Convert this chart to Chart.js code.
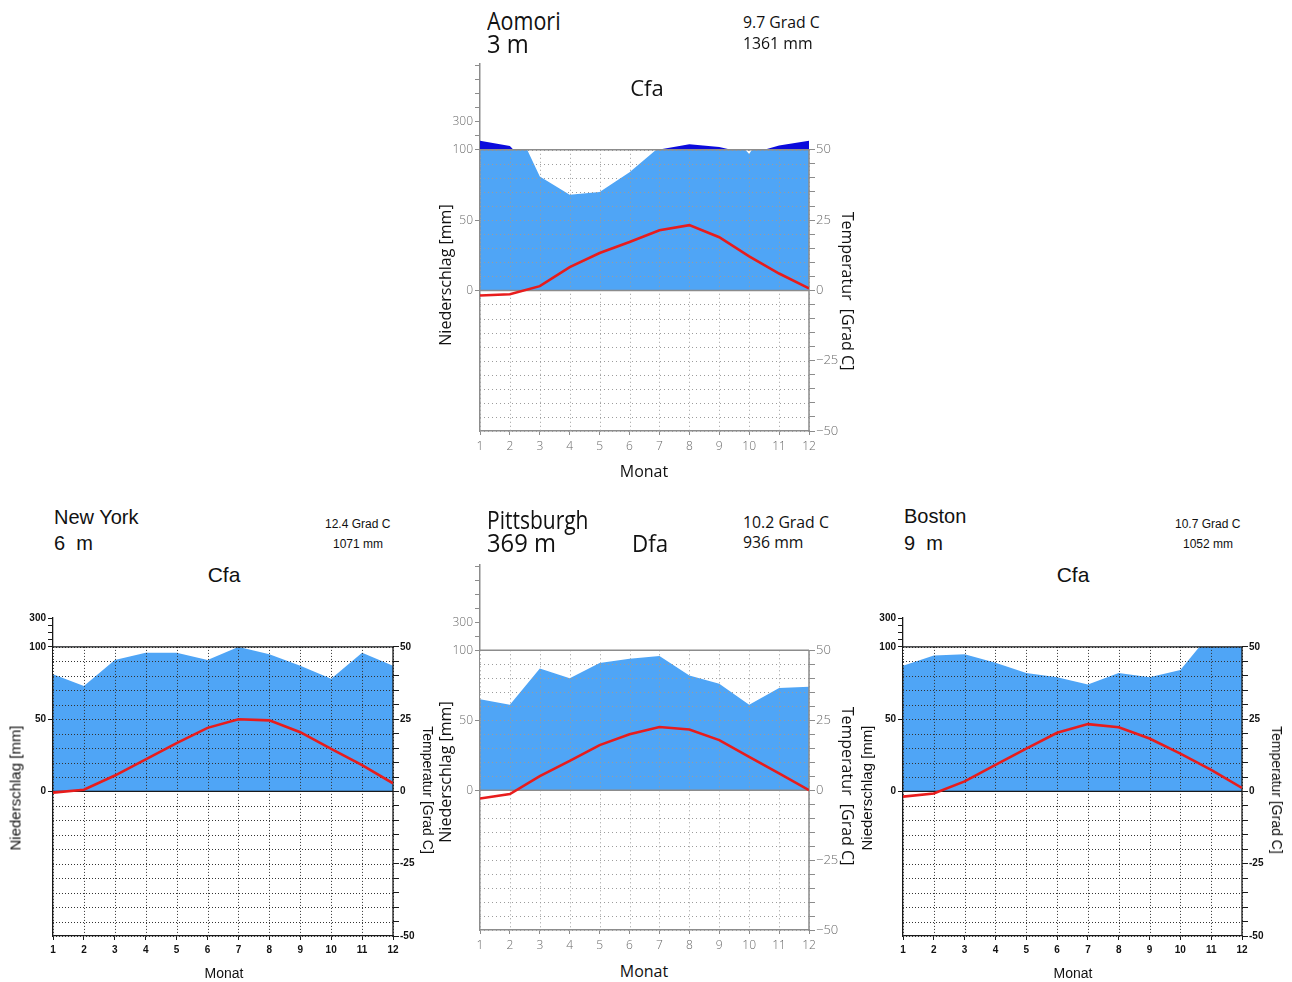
<!DOCTYPE html>
<html>
<head>
<meta charset="utf-8">
<script src="https://cdn.jsdelivr.net/npm/chart.js@4.4.0/dist/chart.umd.min.js"></script>
<style>
  body { margin: 0; background: #fff; width: 1292px; height: 982px; overflow: hidden; position: relative; }
  canvas { position: absolute; }
  .t { position: absolute; white-space: pre; line-height: 1; color: #111; transform-origin: 0 0; }
  .thin { font-family: "Open Sans", "DejaVu Sans", sans-serif; font-weight: 400; color: #111; }
  .arial { font-family: "Liberation Sans", Arial, sans-serif; }
</style>
</head>
<body>
<canvas id="aomori" width="414" height="407" style="left:435px;top:54px"></canvas>
<canvas id="pittsburgh" width="414" height="405" style="left:435px;top:555px"></canvas>
<canvas id="newyork" width="425" height="358" style="left:8px;top:608px"></canvas>
<canvas id="boston" width="424" height="358" style="left:858px;top:608px"></canvas>

<script>
// months and monthly values (precipitation in mm, temperature in deg C)
const months = [1, 2, 3, 4, 5, 6, 7, 8, 9, 10, 11, 12];

const aomoriPrecip = [164, 126, 81, 68, 70, 84, 102, 140, 120, 97, 130, 164];
const aomoriTemp = [-1.8, -1.4, 1.5, 8.3, 13.3, 17.2, 21.4, 23.2, 18.9, 12.1, 6.0, 0.7];

const pittsburghPrecip = [65, 61, 87, 80, 91, 94, 96, 82, 76, 61, 73, 74];
const pittsburghTemp = [-3.0, -1.4, 5.0, 10.5, 16.1, 20.0, 22.6, 21.7, 17.9, 11.9, 6.0, 0.0];

const newYorkPrecip = [81, 73, 91, 96, 96, 91, 100, 95, 87, 78, 96, 87];
const newYorkTemp = [-0.4, 0.6, 5.5, 11.1, 16.7, 22.0, 25.0, 24.6, 20.5, 14.7, 9.1, 2.8];

const bostonPrecip = [87, 94, 95, 89, 82, 79, 74, 82, 79, 84, 110, 100];
const bostonTemp = [-1.8, -0.7, 3.5, 9.2, 14.8, 20.3, 23.3, 22.2, 18.3, 13.1, 7.5, 1.2];

// axis ticks
const precipTicksTall = [0, 50, 100, 200, 300, 400, 500, 600, 700];
const precipTicksShort = [0, 50, 100, 150, 200, 250, 300];
const precipLabels = [0, 50, 100, 300];
const tempTicks = [-50, -45, -40, -35, -30, -25, -20, -15, -10, -5, 0, 5, 10, 15, 20, 25, 30, 35, 40, 45, 50];
const tempLabels = [-50, -25, 0, 25, 50];

// Walter-Lieth: above 100 mm the scale is reduced to 1/10
function humidValue(p) { return p <= 100 ? p : 100 + (p - 100) / 10; }
function mmValue(v) { return v <= 100 ? v : Math.round(100 + (v - 100) * 10); }

const BLUE = "#4fa5f6";
const DARK = "#0b0bdc";
const RED = "#e81c1c";

const thinStyle = {
  axis: "#8c8c8c", grid: "#9c9c9c", dash: [1, 3], tick: "#6a6a6a", axisWidth: 1.5,
  font: { family: "'Open Sans', 'DejaVu Sans', sans-serif", size: 12, weight: "300" },
  rightFont: { family: "'Open Sans', 'DejaVu Sans', sans-serif", size: 13, weight: "300" },
  minus: "\u2212", humid: true, topMm: 710, leftTicks: precipTicksTall
};
const arialStyle = {
  axis: "#1a1a1a", grid: "#333333", dash: [1, 2], tick: "#111111", axisWidth: 1.3,
  font: { family: "'Liberation Sans', Arial, sans-serif", size: 10, weight: "bold" },
  rightFont: { family: "'Liberation Sans', Arial, sans-serif", size: 10, weight: "bold" },
  minus: "-", humid: false, topMm: 300, leftTicks: precipTicksShort
};

// blue band 0..100 mm, dotted grid and solid frame lines
const climateFrame = {
  id: "climateFrame",
  beforeDraw(chart, args, o) {
    const { ctx, chartArea: a } = chart;
    const y = chart.scales.y;
    const top = y.getPixelForValue(100), bot = y.getPixelForValue(0);
    ctx.save();
    ctx.fillStyle = o.band;
    ctx.fillRect(a.left, top, a.right - a.left, bot - top);
    ctx.restore();
  },
  beforeDatasetsDraw(chart, args, o) {
    const { ctx, chartArea: a } = chart;
    const x = chart.scales.x, t = chart.scales.t, y = chart.scales.y;
    const yTop = t.getPixelForValue(50), yBot = t.getPixelForValue(-50);
    ctx.save();
    ctx.lineWidth = 1;
    ctx.strokeStyle = o.grid;
    ctx.setLineDash(o.dash);
    ctx.beginPath();
    x.ticks.forEach(function (tk) {
      const px = Math.round(x.getPixelForValue(tk.value)) + 0.5;
      ctx.moveTo(px, yTop);
      ctx.lineTo(px, yBot);
    });
    t.ticks.forEach(function (tk) {
      const py = Math.round(t.getPixelForValue(tk.value)) + 0.5;
      ctx.moveTo(a.left, py);
      ctx.lineTo(a.right, py);
    });
    ctx.stroke();
    ctx.setLineDash([]);
    ctx.strokeStyle = o.axis;
    ctx.lineWidth = o.axisWidth;
    ctx.beginPath();
    [0, 100].forEach(function (v) {
      const py = y.getPixelForValue(v);
      ctx.moveTo(a.left, py);
      ctx.lineTo(a.right, py);
    });
    ctx.moveTo(a.right, yTop);
    ctx.lineTo(a.right, yBot);
    ctx.stroke();
    ctx.restore();
  }
};

function climateChart(id, precip, temp, st) {
  const top = humidValue(st.topMm);
  const leftTicks = st.leftTicks.map(humidValue);

  const datasets = [
    {
      label: "Niederschlag",
      data: months.map((m, i) => ({ x: m, y: precip[i] })),
      yAxisID: "y",
      borderWidth: 0,
      borderColor: "transparent",
      pointRadius: 0,
      fill: { target: { value: 100 }, above: "transparent", below: "#ffffff" }
    }
  ];
  if (st.humid) {
    datasets.push({
      label: "humid",
      data: months.map((m, i) => ({ x: m, y: humidValue(precip[i]) })),
      yAxisID: "y",
      borderWidth: 0,
      borderColor: "transparent",
      pointRadius: 0,
      fill: { target: { value: 100 }, above: DARK, below: "transparent" }
    });
  }
  datasets.push({
    label: "Temperatur",
    data: months.map((m, i) => ({ x: m, y: temp[i] })),
    yAxisID: "t",
    borderColor: RED,
    borderWidth: 2.6,
    pointRadius: 0,
    fill: false,
    tension: 0
  });

  return new Chart(document.getElementById(id), {
    type: "line",
    data: { datasets: datasets },
    options: {
      responsive: false,
      animation: false,
      events: [],
      layout: { padding: { top: 10, left: 0, right: 0, bottom: 0 } },
      plugins: {
        legend: { display: false },
        tooltip: { enabled: false },
        filler: { drawTime: "beforeDatasetsDraw" },
        climateFrame: { band: BLUE, grid: st.grid, dash: st.dash, axis: st.axis, axisWidth: st.axisWidth }
      },
      scales: {
        x: {
          type: "linear",
          min: 1,
          max: 12,
          afterBuildTicks: (s) => { s.ticks = months.map((v) => ({ value: v })); },
          afterFit: (s) => { s.height = 30; s.paddingLeft = 0; s.paddingRight = 0; },
          ticks: { autoSkip: false, maxRotation: 0, color: st.tick, font: st.font, padding: 4 },
          grid: { drawOnChartArea: false, tickLength: 4, color: st.axis },
          border: { color: st.axis, width: st.axisWidth }
        },
        y: {
          position: "left",
          min: -100,
          max: top,
          afterBuildTicks: (s) => { s.ticks = leftTicks.map((v) => ({ value: v })); },
          afterFit: (s) => { s.width = 45; s.paddingTop = 0; s.paddingBottom = 0; },
          ticks: {
            autoSkip: false,
            color: st.tick,
            font: st.font,
            padding: 2,
            callback: (v) => (precipLabels.includes(mmValue(v)) ? String(mmValue(v)) : "")
          },
          grid: { drawOnChartArea: false, tickLength: 5, color: st.axis },
          border: { color: st.axis, width: st.axisWidth }
        },
        t: {
          position: "right",
          min: -50,
          max: top / 2,
          afterBuildTicks: (s) => { s.ticks = tempTicks.map((v) => ({ value: v })); },
          afterFit: (s) => { s.width = 40; s.paddingTop = 0; s.paddingBottom = 0; },
          ticks: {
            autoSkip: false,
            color: st.tick,
            font: st.rightFont,
            padding: 1,
            callback: (v) => (tempLabels.includes(v) ? String(v).replace("-", st.minus) : "")
          },
          grid: { drawOnChartArea: false, tickLength: 6, color: st.axis },
          border: { display: false }
        }
      }
    },
    plugins: [climateFrame]
  });
}

climateChart("aomori", aomoriPrecip, aomoriTemp, thinStyle);
climateChart("pittsburgh", pittsburghPrecip, pittsburghTemp, thinStyle);
climateChart("newyork", newYorkPrecip, newYorkTemp, arialStyle);
climateChart("boston", bostonPrecip, bostonTemp, arialStyle);

// panel texts: [text, x, baseline or centre y, size, font class, mode, horizontal squeeze]
const panelTexts = [
  ["Aomori", 487, 30, 25, "thin", "left", 0.86],
  ["3 m", 487, 53, 25, "thin", "left", 0.95],
  ["9.7 Grad C", 743, 28, 17, "thin", "left", 0.93],
  ["1361 mm", 743, 49, 17, "thin", "left", 0.93],
  ["Cfa", 647, 96, 22, "thin", "center", 1],
  ["Monat", 644, 477, 16, "thin", "center", 1],
  ["Niederschlag [mm]", 445, 275, 16, "thin", "ccw", 1],
  ["Temperatur  [Grad C]", 848, 291, 16, "thin", "cw", 1],

  ["Pittsburgh", 487, 529, 25, "thin", "left", 0.84],
  ["369 m", 487, 552, 25, "thin", "left", 0.95],
  ["Dfa", 632, 552, 24, "thin", "left", 0.93],
  ["10.2 Grad C", 743, 528, 17, "thin", "left", 0.93],
  ["936 mm", 743, 548, 17, "thin", "left", 0.93],
  ["Monat", 644, 977, 16, "thin", "center", 1],
  ["Niederschlag [mm]", 445, 772, 16, "thin", "ccw", 1],
  ["Temperatur  [Grad C]", 848, 786, 16, "thin", "cw", 1],

  ["New York", 54, 524, 20, "arial", "left", 1],
  ["6  m", 54, 550, 20, "arial", "left", 1],
  ["12.4 Grad C", 325, 528, 12, "arial", "left", 1],
  ["1071 mm", 333, 548, 12, "arial", "left", 1],
  ["Cfa", 224, 582, 21, "arial", "center", 1],
  ["Monat", 224, 978, 14, "arial", "center", 1],
  ["Niederschlag [mm]", 15, 788, 15, "arial", "ccw", 1],
  ["Temperatur [Grad C]", 428, 790, 14, "arial", "cw", 1],

  ["Boston", 904, 523, 20, "arial", "left", 1],
  ["9  m", 904, 550, 20, "arial", "left", 1],
  ["10.7 Grad C", 1175, 528, 12, "arial", "left", 1],
  ["1052 mm", 1183, 548, 12, "arial", "left", 1],
  ["Cfa", 1073, 582, 21, "arial", "center", 1],
  ["Monat", 1073, 978, 14, "arial", "center", 1],
  ["Niederschlag [mm]", 866, 788, 15, "arial", "ccw", 1],
  ["Temperatur [Grad C]", 1277, 790, 14, "arial", "cw", 1]
];

panelTexts.forEach(function (p) {
  const [str, x, y, size, cls, mode, sx] = p;
  const d = document.createElement("div");
  d.className = "t " + cls;
  d.textContent = str;
  d.style.fontSize = size + "px";
  d.style.left = x + "px";
  if (mode === "ccw" || mode === "cw") {
    d.style.top = y + "px";
    d.style.transformOrigin = "50% 50%";
    d.style.transform = "translate(-50%,-50%) rotate(" + (mode === "ccw" ? -90 : 90) + "deg)";
  } else {
    const k = cls === "thin" ? 0.888 : 0.846;
    d.style.top = (y - k * size) + "px";
    if (mode === "center") {
      d.style.transformOrigin = "50% 50%";
      d.style.transform = "translateX(-50%)";
    } else if (sx !== 1) {
      d.style.transform = "scaleX(" + sx + ")";
    }
  }
  document.body.appendChild(d);
});
</script>
</body>
</html>
